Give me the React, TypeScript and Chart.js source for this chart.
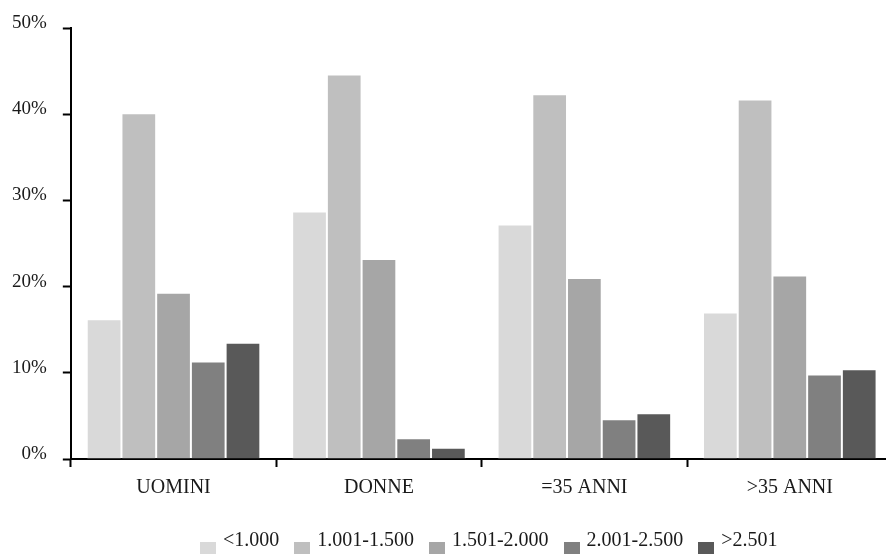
import React, { useEffect, useRef } from "react";
import { Chart, registerables } from "chart.js";

Chart.register(...registerables);

const categories = ["UOMINI", "DONNE", "=35 ANNI", ">35 ANNI"];
const seriesLabels = ["<1.000", "1.001-1.500", "1.501-2.000", "2.001-2.500", ">2.501"];
const lt1000 = [16.2, 28.7, 27.2, 17.0];
const r1001to1500 = [40.1, 44.6, 42.3, 41.7];
const r1501to2000 = [19.3, 23.2, 21.0, 21.3];
const r2001to2500 = [11.3, 2.4, 4.6, 9.8];
const gt2501 = [13.5, 1.3, 5.3, 10.4];
const seriesColors = ["#d9d9d9", "#bfbfbf", "#a6a6a6", "#808080", "#595959"];
const yTickValues = [0, 10, 20, 30, 40, 50];

const FONT = "'Liberation Serif', 'Times New Roman', serif";

function makeLegendSwatch(color: string): HTMLCanvasElement {
  const c = document.createElement("canvas");
  c.width = 16;
  c.height = 30;
  const ctx = c.getContext("2d")!;
  ctx.fillStyle = color;
  ctx.fillRect(0, 16, 16, 12);
  return c;
}

export default function App() {
  const canvasRef = useRef<HTMLCanvasElement | null>(null);

  useEffect(() => {
    const canvas = canvasRef.current;
    if (!canvas) return;
    const allSeries = [lt1000, r1001to1500, r1501to2000, r2001to2500, gt2501];
    const swatches = seriesColors.map((c) => makeLegendSwatch(c));

    const legendShift = {
      id: "legendShift",
      afterLayout(chart: any) {
        const lg = chart.legend;
        if (lg) {
          const dx = 46;
          const dy = 4;
          lg.left += dx;
          lg.right += dx;
          lg.top += dy;
          lg.bottom += dy;
        }
      },
    };

    const chart = new Chart(canvas, {
      type: "bar",
      data: {
        labels: categories,
        datasets: allSeries.map((vals, i) => ({
          label: seriesLabels[i],
          data: vals,
          backgroundColor: seriesColors[i],
          borderColor: "rgba(255,255,255,0.45)",
          borderWidth: 1,
          borderSkipped: "bottom",
          barPercentage: 1,
          categoryPercentage: 0.845,
        })),
      },
      options: {
        responsive: false,
        animation: false,
        layout: { padding: { left: 0, top: 28, right: 1.5, bottom: -3 } },
        plugins: {
          tooltip: { enabled: false },
          legend: {
            position: "bottom",
            labels: {
              font: { family: FONT, size: 20 },
              color: "#1a1a1a",
              usePointStyle: true,
              pointStyleWidth: 10,
              boxHeight: 19,
              padding: 18,
              generateLabels: () =>
                seriesLabels.map((t, i) => ({
                  text: t,
                  fillStyle: seriesColors[i],
                  strokeStyle: seriesColors[i],
                  lineWidth: 0,
                  pointStyle: swatches[i],
                  hidden: false,
                  datasetIndex: i,
                  fontColor: "#1a1a1a",
                })),
            },
          },
        },
        scales: {
          x: {
            grid: {
              display: true,
              drawOnChartArea: false,
              drawTicks: true,
              tickLength: 8,
              tickColor: "#000",
              tickWidth: 2,
              offset: true,
            },
            border: { display: true, color: "#000", width: 2 },
            ticks: {
              font: { family: FONT, size: 20 },
              color: "#1a1a1a",
              padding: 9,
              maxRotation: 0,
            },
          },
          y: {
            min: 0,
            max: 50,
            afterBuildTicks: (axis: any) => {
              axis.ticks = yTickValues.map((v) => ({ value: v }));
            },
            grid: {
              display: true,
              drawOnChartArea: false,
              drawTicks: true,
              tickLength: 8,
              tickColor: "#000",
              tickWidth: 2,
            },
            border: { display: true, color: "#000", width: 2 },
            ticks: {
              font: { family: FONT, size: 19 },
              color: "#1a1a1a",
              padding: 16,
              labelOffset: -5,
              callback: (v: any) => `${v}%`,
            },
          },
        },
      },
      plugins: [legendShift],
    } as any);

    return () => chart.destroy();
  }, []);

  return (
    <div
      style={{
        position: "fixed",
        left: 0,
        top: 0,
        width: 886,
        height: 554,
        overflow: "hidden",
        background: "#fff",
      }}
    >
      <canvas
        ref={canvasRef}
        width={898}
        height={554}
        style={{ display: "block", position: "absolute", left: -4, top: 0 }}
      />
    </div>
  );
}
